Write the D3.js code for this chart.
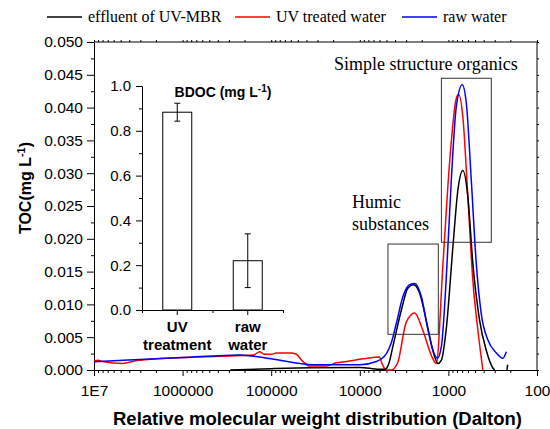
<!DOCTYPE html>
<html>
<head>
<meta charset="utf-8">
<script src="https://cdn.jsdelivr.net/npm/d3@7/dist/d3.min.js"></script>
<style>
  body { margin: 0; background: #fff; }
  svg { display: block; }
  .ax text { font-family: Arial, "Liberation Sans", sans-serif; font-size: 15.5px; fill: #000; }
  .ax path, .ax line { stroke: #000; }
  .inset text { font-size: 15px; }
  .serif { font-family: "Times New Roman", "Liberation Serif", serif; }
  .bold { font-family: Arial, "Liberation Sans", sans-serif; font-weight: bold; }
</style>
</head>
<body>
<svg width="550" height="429"></svg>
<script>
// molecular weight (Dalton) and TOC (mg/L)
var blueMW  = [1e7, 1e6, 2.26e5, 1e5, 3.4e4, 1e4, 6500, 5010, 4400, 3870, 3260, 2740, 2400, 2020, 1700, 1460, 1330, 1200, 1060, 927, 815, 698, 628, 552, 485, 426, 359, 288, 243, 222];
var blueTOC = [0.00127, 0.0019, 0.0023, 0.0017, 0.0008, 0.0008, 0.0013, 0.0025, 0.0042, 0.0071, 0.0112, 0.0130, 0.0132, 0.0112, 0.0061, 0.0026, 0.0018, 0.0036, 0.0137, 0.0290, 0.0401, 0.0435, 0.0407, 0.0290, 0.0163, 0.0086, 0.0046, 0.0026, 0.0018, 0.0028];

var redMW  = [1e7, 9e6, 8e6, 4.7e6, 3.4e6, 1e6, 2.26e5, 1.57e5, 1.35e5, 1.2e5, 1e5, 8.7e4, 6e4, 5.2e4, 4.4e4, 3.67e4, 2.4e4, 1.84e4, 1.42e4, 9270, 5970, 5700, 5010, 4400, 3740, 2990, 2400, 1950, 1510, 1370, 1150, 970, 815, 767, 687, 603, 530, 465, 408];
var redTOC = [0.0014, 0.0015, 0.0013, 0.0010, 0.0014, 0.0019, 0.0022, 0.0023, 0.0028, 0.0024, 0.0024, 0.0026, 0.0026, 0.0024, 0.0013, 0.0006, 0.0006, 0.0011, 0.0013, 0.0017, 0.0020, 0.0012, 0.0, 0.0, 0.0011, 0.0073, 0.0087, 0.0061, 0.0018, 0.0010, 0.0163, 0.0316, 0.0414, 0.0420, 0.0386, 0.0264, 0.0137, 0.0061, 0.0];

var blackMW  = [2.9e5, 1e5, 3.4e4, 1e4, 6000, 5200, 4700, 4230, 3400, 2860, 2470, 2110, 1750, 1500, 1310, 1200, 1060, 889, 782, 687, 603, 530, 445, 374, 315, 301];
var blackTOC = [0.0, 0.0002, 0.00035, 0.0004, 0.0001, 0.0001, 0.0010, 0.0036, 0.0091, 0.0125, 0.0130, 0.0117, 0.0071, 0.0030, 0.0010, 0.0015, 0.0061, 0.0188, 0.0274, 0.0304, 0.0264, 0.0163, 0.0076, 0.0030, 0.0003, 0.0];
var blackTailMW  = [218, 216, 214];
var blackTailTOC = [0.0, 0.0005, 0.0008];

var bdocCats = ["UV treatment", "raw water"];
var bdocVals = [0.883, 0.22];
var bdocErr  = [0.04, 0.12];

var xTicks = [1e7, 1e6, 1e5, 1e4, 1e3, 100];
var xTickLabels = ["1E7", "1000000", "100000", "10000", "1000", "100"];

var svg = d3.select("svg");

var x = d3.scaleLog().domain([1e7, 100]).range([94, 537]);
var y = d3.scaleLinear().domain([0, 0.05]).range([370, 42]);

// frame
svg.append("line").attr("x1", 94).attr("x2", 537).attr("y1", 42).attr("y2", 42).attr("stroke", "#000");
svg.append("line").attr("x1", 537).attr("x2", 537).attr("y1", 42).attr("y2", 370).attr("stroke", "#000");

// minor ticks for log axis
var minorX = [];
for (var e = 2; e < 7; e++) {
  for (var m = 2; m < 10; m++) minorX.push(m * Math.pow(10, e));
}

svg.append("g").attr("class", "ax")
  .attr("transform", "translate(0,370)")
  .call(d3.axisBottom(x).tickValues(minorX).tickSize(3).tickFormat(""))
  .call(g => g.select(".domain").remove());

svg.append("g").attr("class", "ax")
  .attr("transform", "translate(0,370)")
  .call(d3.axisBottom(x).tickValues(xTicks).tickSize(6).tickSizeOuter(0).tickPadding(9)
    .tickFormat((d, i) => xTickLabels[i]));

// top ticks
svg.append("g").attr("class", "ax")
  .attr("transform", "translate(0,42)")
  .call(d3.axisTop(x).tickValues(minorX.concat(xTicks)).tickSize(2).tickFormat(""))
  .call(g => g.select(".domain").remove());

var yMajor = d3.range(0, 0.0501, 0.005);
var yMinor = d3.range(0.0025, 0.05, 0.005);

svg.append("g").attr("class", "ax")
  .attr("transform", "translate(94,0)")
  .call(d3.axisLeft(y).tickValues(yMinor).tickSize(3).tickFormat(""))
  .call(g => g.select(".domain").remove());

svg.append("g").attr("class", "ax")
  .attr("transform", "translate(94,0)")
  .call(d3.axisLeft(y).tickValues(yMajor).tickSize(7).tickSizeOuter(0).tickPadding(4)
    .tickFormat(d3.format(".3f")));

svg.append("g").attr("class", "ax")
  .attr("transform", "translate(537,0)")
  .call(d3.axisRight(y).tickValues(yMajor.concat(yMinor)).tickSize(2).tickFormat(""))
  .call(g => g.select(".domain").remove());

// axis titles
svg.append("text").attr("class", "bold")
  .attr("x", 113).attr("y", 425)
  .attr("font-size", 17.5)
  .attr("textLength", 409).attr("lengthAdjust", "spacingAndGlyphs")
  .text("Relative molecular weight distribution (Dalton)");

var yt = svg.append("text").attr("class", "bold")
  .attr("transform", "translate(31,188) rotate(-90)")
  .attr("text-anchor", "middle").attr("font-size", 16);
yt.append("tspan").text("TOC(mg L");
yt.append("tspan").attr("dy", -6).attr("font-size", 11).text("-1");
yt.append("tspan").attr("dy", 6).text(")");

// curves
var line = d3.line()
  .x(d => x(d[0]))
  .y(d => y(d[1]))
  .curve(d3.curveMonotoneX);

function draw(mw, toc, color) {
  svg.append("path")
    .datum(d3.zip(mw, toc))
    .attr("fill", "none")
    .attr("stroke", color)
    .attr("stroke-width", 1.5)
    .attr("d", line);
}
draw(redMW, redTOC, "#ff0000");
draw(blackMW, blackTOC, "#000000");
draw(blackTailMW, blackTailTOC, "#000000");
draw(blueMW, blueTOC, "#0000ff");

// annotation boxes
function box(mw0, mw1, t0, t1) {
  svg.append("rect")
    .attr("x", x(mw0)).attr("y", y(t1))
    .attr("width", x(mw1) - x(mw0)).attr("height", y(t0) - y(t1))
    .attr("fill", "none").attr("stroke", "#333").attr("stroke-width", 1);
}
box(4810, 1300, 0.00544, 0.0192);
box(1200, 328, 0.01947, 0.04447);

svg.append("text").attr("class", "serif").attr("font-size", 18)
  .attr("x", 334).attr("y", 70).text("Simple structure organics");
svg.append("text").attr("class", "serif").attr("font-size", 18)
  .attr("x", 352).attr("y", 208).text("Humic");
svg.append("text").attr("class", "serif").attr("font-size", 18)
  .attr("x", 352).attr("y", 230).text("substances");

// legend
var legend = [
  {label: "effluent of UV-MBR", color: "#000000", x: 47},
  {label: "UV treated water", color: "#ff0000", x: 235},
  {label: "raw water", color: "#0000ff", x: 402}
];
var lg = svg.selectAll(".lg").data(legend).enter().append("g")
  .attr("transform", d => "translate(" + d.x + ",17)");
lg.append("line").attr("x1", 0).attr("x2", 35)
  .attr("stroke", d => d.color).attr("stroke-width", 1.5);
lg.append("text").attr("class", "serif").attr("font-size", 16)
  .attr("x", 41).attr("y", 5).text(d => d.label);

// inset bar chart
var xi = d3.scalePoint().domain(bdocCats).range([142, 283]).padding(0.5);
var yi = d3.scaleLinear().domain([0, 1]).range([310, 86]);
var barW = 29;

svg.append("g").attr("class", "ax inset")
  .attr("transform", "translate(142,0)")
  .call(d3.axisLeft(yi).tickValues(d3.range(0.1, 1, 0.2)).tickSize(3).tickFormat(""))
  .call(g => g.select(".domain").remove());
svg.append("g").attr("class", "ax inset")
  .attr("transform", "translate(142,0)")
  .call(d3.axisLeft(yi).tickValues([0, 0.2, 0.4, 0.6, 0.8, 1.0]).tickSize(6).tickSizeOuter(0)
    .tickPadding(5).tickFormat(d3.format(".1f")));

svg.append("g").attr("class", "ax inset")
  .attr("transform", "translate(0,310)")
  .call(d3.axisBottom(d3.scaleLinear().domain([0, 4]).range([142, 283]))
    .tickValues([0, 2, 4]).tickSize(3).tickFormat(""));

var bars = svg.selectAll(".bar").data(bdocCats).enter().append("g");
bars.append("rect")
  .attr("x", d => xi(d) - barW / 2)
  .attr("y", (d, i) => yi(bdocVals[i]))
  .attr("width", barW)
  .attr("height", (d, i) => yi(0) - yi(bdocVals[i]))
  .attr("fill", "#fff").attr("stroke", "#000").attr("stroke-width", 1);
bars.append("line")
  .attr("x1", d => xi(d)).attr("x2", d => xi(d))
  .attr("y1", (d, i) => yi(bdocVals[i] + bdocErr[i]))
  .attr("y2", (d, i) => yi(bdocVals[i] - bdocErr[i]))
  .attr("stroke", "#000");
bars.selectAll(".cap").data((d, i) => [[d, bdocVals[i] + bdocErr[i]], [d, bdocVals[i] - bdocErr[i]]])
  .enter().append("line")
  .attr("x1", d => xi(d[0]) - 3).attr("x2", d => xi(d[0]) + 3)
  .attr("y1", d => yi(d[1])).attr("y2", d => yi(d[1]))
  .attr("stroke", "#000");

// category ticks and labels
svg.selectAll(".ctick").data(bdocCats).enter().append("line")
  .attr("x1", d => xi(d)).attr("x2", d => xi(d))
  .attr("y1", 310).attr("y2", 315).attr("stroke", "#000");
var cl = svg.selectAll(".clab").data(bdocCats).enter().append("text")
  .attr("class", "bold").attr("font-size", 15).attr("text-anchor", "middle");
cl.append("tspan").attr("x", d => xi(d)).attr("y", 332).text(d => d.split(" ")[0]);
cl.append("tspan").attr("x", d => xi(d)).attr("y", 350).text(d => d.split(" ")[1]);

var bt = svg.append("text").attr("class", "bold").attr("font-size", 14)
  .attr("x", 223).attr("y", 97).attr("text-anchor", "middle");
bt.append("tspan").text("BDOC (mg L");
bt.append("tspan").attr("dy", -5).attr("font-size", 10).text("-1");
bt.append("tspan").attr("dy", 5).text(")");
</script>
</body>
</html>
